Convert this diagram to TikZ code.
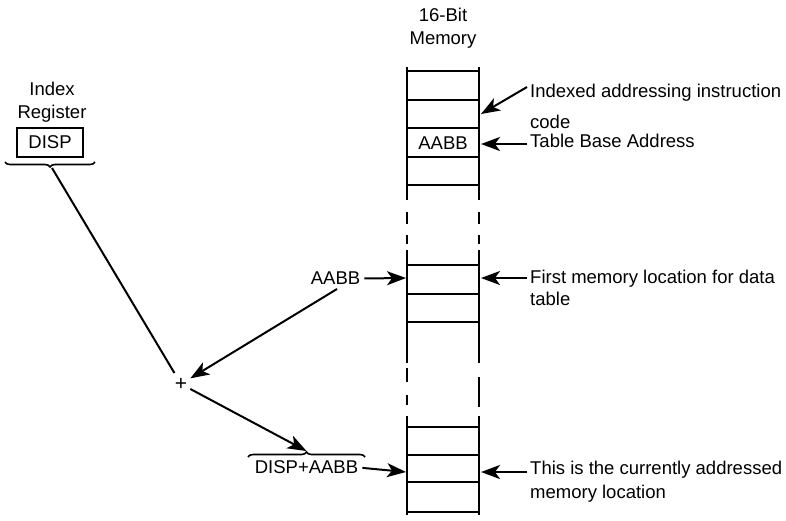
\documentclass[tikz,border=0pt]{standalone}
\usepackage{fontspec}
\setmainfont{Liberation Sans}
\usetikzlibrary{arrows.meta,decorations.pathreplacing}
\begin{document}
\begin{tikzpicture}[x=1pt,y=-1pt,
  font=\fontsize{18.5}{23}\selectfont,
  memline/.style={line width=2.2pt},
  arr/.style={line width=2pt,-{Stealth[length=19pt,width=14pt,inset=5pt]}},
  lbl/.style={anchor=north west,align=left,inner sep=0pt},
  txt/.style={inner sep=0pt},
  bracestyle/.style={line width=1.6pt,decorate,decoration={brace,amplitude=5pt}}]
\useasboundingbox (0,0) rectangle (786,520);
% ---- memory column ----
\foreach \x in {407,479}{
  \draw[memline] (\x,67) -- (\x,200);
  \draw[memline] (\x,212) -- (\x,224);
  \draw[memline] (\x,235) -- (\x,244);
  \draw[memline] (\x,250) -- (\x,363);
  \draw[memline] (\x,416) -- (\x,515);
}
\draw[memline] (407,368) -- (407,382);
\draw[memline] (407,395) -- (407,405);
\draw[memline] (479,377) -- (479,407);
\foreach \y in {71,100,128,157,185,265,294,322,427,455,482,512}{
  \draw[memline] (407,\y) -- (479,\y);
}
\node[txt] (cell) at (443,143) {AABB};
\node[txt,align=center] (hdr) at (443,28) {16-Bit\\Memory};
% ---- index register ----
\node[txt,align=center] (idx) at (52,102) {Index\\Register};
\node[draw,line width=1.6pt,minimum width=66pt,minimum height=29pt,inner sep=0pt] (disp) at (50,142.5) {DISP};
\draw[bracestyle] (95,162) -- (5,162);
\coordinate (ib) at (52,168);
\node[txt,font=\fontsize{21}{21}\selectfont,inner sep=3pt] (plus) at (181,384) {+};
\draw[line width=2pt,shorten >=2pt] (ib) -- (plus);
% ---- AABB ----
\node[txt] (aabb) at (335.5,278.5) {AABB};
\coordinate (l3) at (406,278);
\coordinate (a1) at (337,289);
\draw[arr,shorten <=4pt] (aabb.east) -- (l3);
\draw[arr] (a1) -- (plus);
% ---- DISP+AABB ----
\node[txt] (dsum) at (306.5,467.5) {DISP+AABB};
\draw[bracestyle] (248,457) -- (365,457);
\coordinate (btip) at (306.5,451);
\draw[arr] (plus) -- (btip);
\coordinate (l4) at (406,472);
\draw[arr,shorten <=4pt] (dsum.east) -- (l4);
% ---- right side labels ----
\coordinate (r1) at (481,114);
\coordinate (r2) at (481,144);
\coordinate (r3) at (481,278);
\coordinate (r4) at (481,472);
\coordinate (s1) at (527,87);
\coordinate (s2) at (527,144);
\coordinate (s3) at (527,278);
\coordinate (s4) at (527,472);
\node[lbl] (t1) at (530,84) {Indexed addressing instruction\\[8pt]code};
\node[lbl] (t2) at (530,134) {Table Base Address};
\node[lbl] (t3) at (530,270) {First memory location for data\\[-1pt]table};
\node[lbl] (t4) at (530,461) {This is the currently addressed\\[1pt]memory location};
\draw[arr] (s1) -- (r1);
\draw[arr] (s2) -- (r2);
\draw[arr] (s3) -- (r3);
\draw[arr] (s4) -- (r4);
\end{tikzpicture}
\end{document}
